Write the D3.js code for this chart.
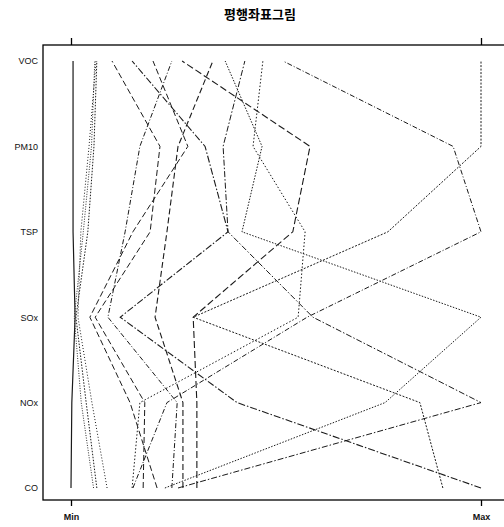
<!DOCTYPE html>
<html>
<head>
<meta charset="utf-8">
<script src="https://cdn.jsdelivr.net/npm/d3@7"></script>
<style>
body{margin:0;background:#fff;overflow:hidden;}
svg text{font-family:"Liberation Sans",Arial,sans-serif;}
</style>
</head>
<body>
<div class="container"></div>
<script>
// parallel coordinates, values scaled 0 (Min) .. 100 (Max), one entry per line
var variables=["CO","NOx","SOx","TSP","PM10","VOC"];
var CO  =[0,   6.3, 8.8, 17.6,100, 21.0,24.6,30.7,27.3,22.9,26.1,14.9,15.1,90.7,5.5];
var NOx =[0.2, 3.7, 5.1, 18.0,40.5,14.4,25.9,30.7,27.3,76.6,100, 16.8,23.4,85.1,2.5];
var SOx =[1.0, 1.2, 1.7, 5.9, 12.0,4.6, 9.0, 29.8,20.5,100, 59.0,55.4,57.6,29.8,0.8];
var TSP =[0.5, 4.1, 2.4, 19.3,38.3,15.1,13.2,54.1,23.4,41.7,38.3,57.1,100, 77.3,3.0];
var PM10=[0.5, 5.6, 4.4, 21.7,32.7,28.5,16.8,58.3,26.1,46.6,37.1,44.4,93.2,100, 5.0];
var VOC =[0.5, 6.3, 6.1, 10.0,14.9,20.0,24.6,27.1,34.6,37.6,42.4,46.8,51.7,100, 5.8];
var xLabels=["Min","Max"];

var cols={CO:CO,NOx:NOx,SOx:SOx,TSP:TSP,PM10:PM10,VOC:VOC};
var dataArray=[];
for(i=0;i<CO.length;i++){
    var row={};
    variables.forEach(function(v){ row[v]=cols[v][i]; });
    dataArray.push(row);
}

var dashes=["none","1.5,1.5","1,2","6,3","7,2,1.5,2","6,3","5,2,1,2","7,3","6,3","1.5,1.5","6,2,1.5,2","1.5,2","5,2,1,2","2,1.5","1,1.5"];
var widths=[1.2,1,1,1,1.1,1,1,1.1,1.1,1,1,1,1,1,0.9];

var svg=d3.select(".container").append("svg").attr("width",504).attr("height",527);

var x=d3.scaleLinear().domain([0,100]).range([71,481]);
var y=d3.scalePoint().domain(variables).range([488,61]);

svg.append("text")
    .attr("x",260).attr("y",19)
    .attr("text-anchor","middle")
    .attr("font-size","13")
    .attr("font-weight","bold")
    .style("font-family","'Noto Sans CJK KR',sans-serif")
    .text("평행좌표그림");

var line=d3.line()
    .x(function(d){ return x(d.v);})
    .y(function(d){ return y(d.k);});

svg.selectAll("path.pline")
    .data(dataArray)
    .enter().append("path")
    .attr("class","pline")
    .attr("fill","none")
    .attr("stroke","#1a1a1a")
    .attr("stroke-width",function(d,i){ return widths[i];})
    .attr("stroke-dasharray",function(d,i){ return dashes[i];})
    .attr("d",function(d){
        return line(variables.map(function(k){ return {k:k,v:d[k]}; }));
    });

// panel box (right side runs off the page, as in the scan)
svg.append("rect")
    .attr("x",43).attr("y",45)
    .attr("width",520).attr("height",455)
    .attr("fill","none")
    .attr("stroke","#000")
    .attr("stroke-width",1.3);

var xAxis=d3.axisBottom(x).tickValues([0,100])
    .tickFormat(function(d,i){ return xLabels[i];})
    .tickSize(6).tickPadding(8);
var gx=svg.append("g").attr("transform","translate(0,500)").call(xAxis);
gx.select(".domain").remove();
gx.selectAll("text").attr("font-size","9").attr("font-weight","bold").attr("fill","#111");
gx.selectAll("line").attr("stroke-width",1.3);

var xTop=d3.axisTop(x).tickValues([0,100]).tickFormat("").tickSize(7);
var gt=svg.append("g").attr("transform","translate(0,45)").call(xTop);
gt.select(".domain").remove();
gt.selectAll("line").attr("stroke-width",1.3);

var yAxis=d3.axisLeft(y).tickSize(0).tickPadding(5);
var gy=svg.append("g").attr("transform","translate(43,0)").call(yAxis);
gy.select(".domain").remove();
gy.selectAll("text").attr("font-size","9").attr("fill","#111");
</script>
</body>
</html>
